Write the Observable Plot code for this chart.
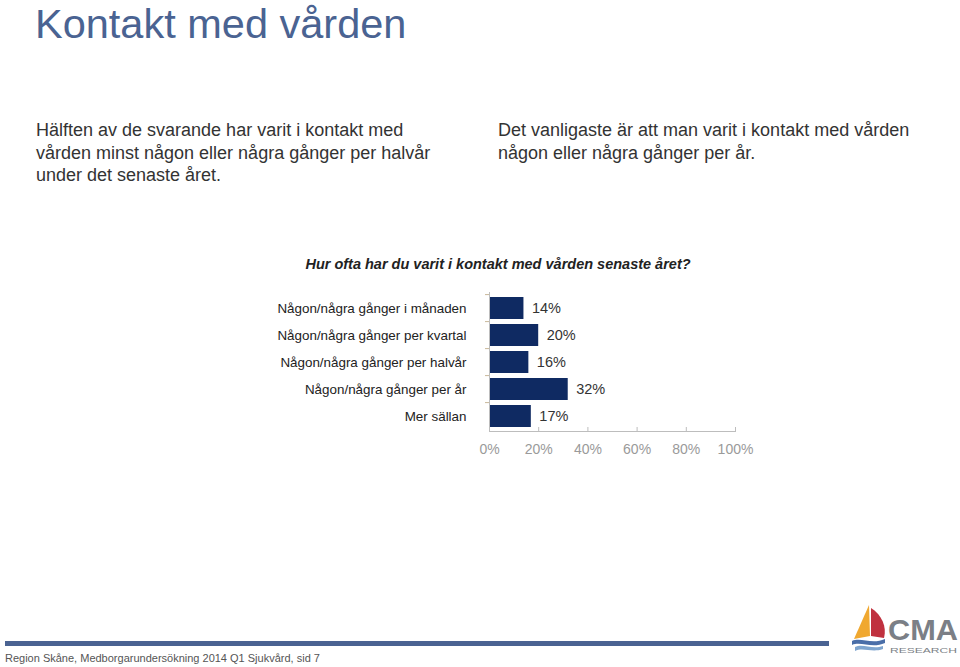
<!DOCTYPE html>
<html>
<head>
<meta charset="utf-8">
<script src="https://cdn.jsdelivr.net/npm/d3@7"></script>
<script src="https://cdn.jsdelivr.net/npm/@observablehq/plot@0.6"></script>
<style>
  html, body { margin: 0; padding: 0; background: #fff; }
  body { width: 960px; height: 667px; position: relative; overflow: hidden; font-family: "Liberation Sans", Arial, Helvetica, sans-serif; }
  .abs { position: absolute; }
  #title { left: 35px; top: 3px; font-size: 41.5px; line-height: 41px; color: #4a6392; white-space: nowrap; }
  .para { font-size: 18px; color: #333; line-height: 22.5px; }
  #p1 { left: 36px; top: 119px; width: 410px; }
  #p2 { left: 498px; top: 119px; width: 440px; }
  #ctitle { left: 0; width: 996px; top: 256px; text-align: center; font-size: 14.5px; font-weight: bold; font-style: italic; color: #222; }
  #chart { left: 0; top: 285px; }
  #bar { left: 5px; top: 641px; width: 824px; height: 5px; background: #4a6392; }
  #foot { left: 5px; top: 652px; font-size: 11px; color: #555; white-space: nowrap; }
  #logo { left: 848px; top: 603px; }
</style>
</head>
<body>
<div id="title" class="abs">Kontakt med vården</div>
<div id="p1" class="abs para">Hälften av de svarande har varit i kontakt med vården minst någon eller några gånger per halvår under det senaste året.</div>
<div id="p2" class="abs para">Det vanligaste är att man varit i kontakt med vården någon eller några gånger per år.</div>
<div id="ctitle" class="abs">Hur ofta har du varit i kontakt med vården senaste året?</div>
<div id="chart" class="abs"></div>
<div id="bar" class="abs"></div>
<div id="foot" class="abs">Region Skåne, Medborgarundersökning 2014 Q1 Sjukvård, sid 7</div>
<svg id="logo" class="abs" width="112" height="54" viewBox="0 0 112 54">
  <path d="M21 2 L6 36 L22 33 Z" fill="#f0a830"/>
  <path d="M23 5 C34 12 39 24 36 35 L23 33 Z" fill="#c0313f"/>
  <path d="M4 38 C13 34 24 42 37 36 L37 40 C24 46 13 38 4 42 Z" fill="#4a6ea8"/>
  <path d="M7 44 C15 40 24 47 35 43 L35 46 C24 50 15 44 7 48 Z" fill="#7fa5cf"/>
  <text x="40" y="37" font-family="Liberation Sans Narrow, Liberation Sans, Arial" font-weight="bold" font-size="30" textLength="70" lengthAdjust="spacingAndGlyphs" fill="#7b7f86">CMA</text>
  <text x="42" y="50" font-family="Liberation Sans, Arial" font-size="7.5" textLength="67" lengthAdjust="spacingAndGlyphs" fill="#7b7f86">RESEARCH</text>
</svg>
<script>
const categories = [
  "Någon/några gånger i månaden",
  "Någon/några gånger per kvartal",
  "Någon/några gånger per halvår",
  "Någon/några gånger per år",
  "Mer sällan"
];
const values = [14, 20, 16, 32, 17];
const xTicks = [0, 20, 40, 60, 80, 100];

const data = categories.map((c, i) => ({category: c, value: values[i]}));

const chart = Plot.plot({
  width: 960,
  height: 185,
  marginLeft: 489,
  marginRight: 225,
  marginTop: 7,
  marginBottom: 39,
  style: {fontFamily: "Liberation Sans, Arial, sans-serif", background: "transparent"},
  x: {domain: [0, 100]},
  y: {domain: categories, paddingInner: 0.2, paddingOuter: 0.1},
  marks: [
    Plot.barX(data, {y: "category", x: "value", fill: "#0f2a62"}),
    Plot.text(data, {y: "category", x: "value", text: d => d.value + "%", textAnchor: "start", dx: 8, fontSize: 14.5, fill: "#333"}),
    Plot.ruleX([0], {stroke: "#bdbdbd"}),
    Plot.frame({anchor: "bottom", stroke: "#bdbdbd"}),
    Plot.axisY({tickSize: 4, tickFormat: () => "", dy: -13.9, stroke: "#c8b89a", label: null}),
    Plot.axisY({tickSize: 0, tickPadding: 23, fontSize: 13.4, fill: "#222", label: null}),
    Plot.axisX({ticks: xTicks, tickFormat: d => d + "%", tickSize: 4, tickPadding: 9, fontSize: 14, fill: "#9a9a9a", stroke: "#bdbdbd", label: null})
  ]
});
chart.querySelectorAll("[aria-label='x-axis tick'] path").forEach(p => p.setAttribute("transform", (p.getAttribute("transform")||"") + " translate(0,-4)"));
document.getElementById("chart").appendChild(chart);
</script>
</body>
</html>
